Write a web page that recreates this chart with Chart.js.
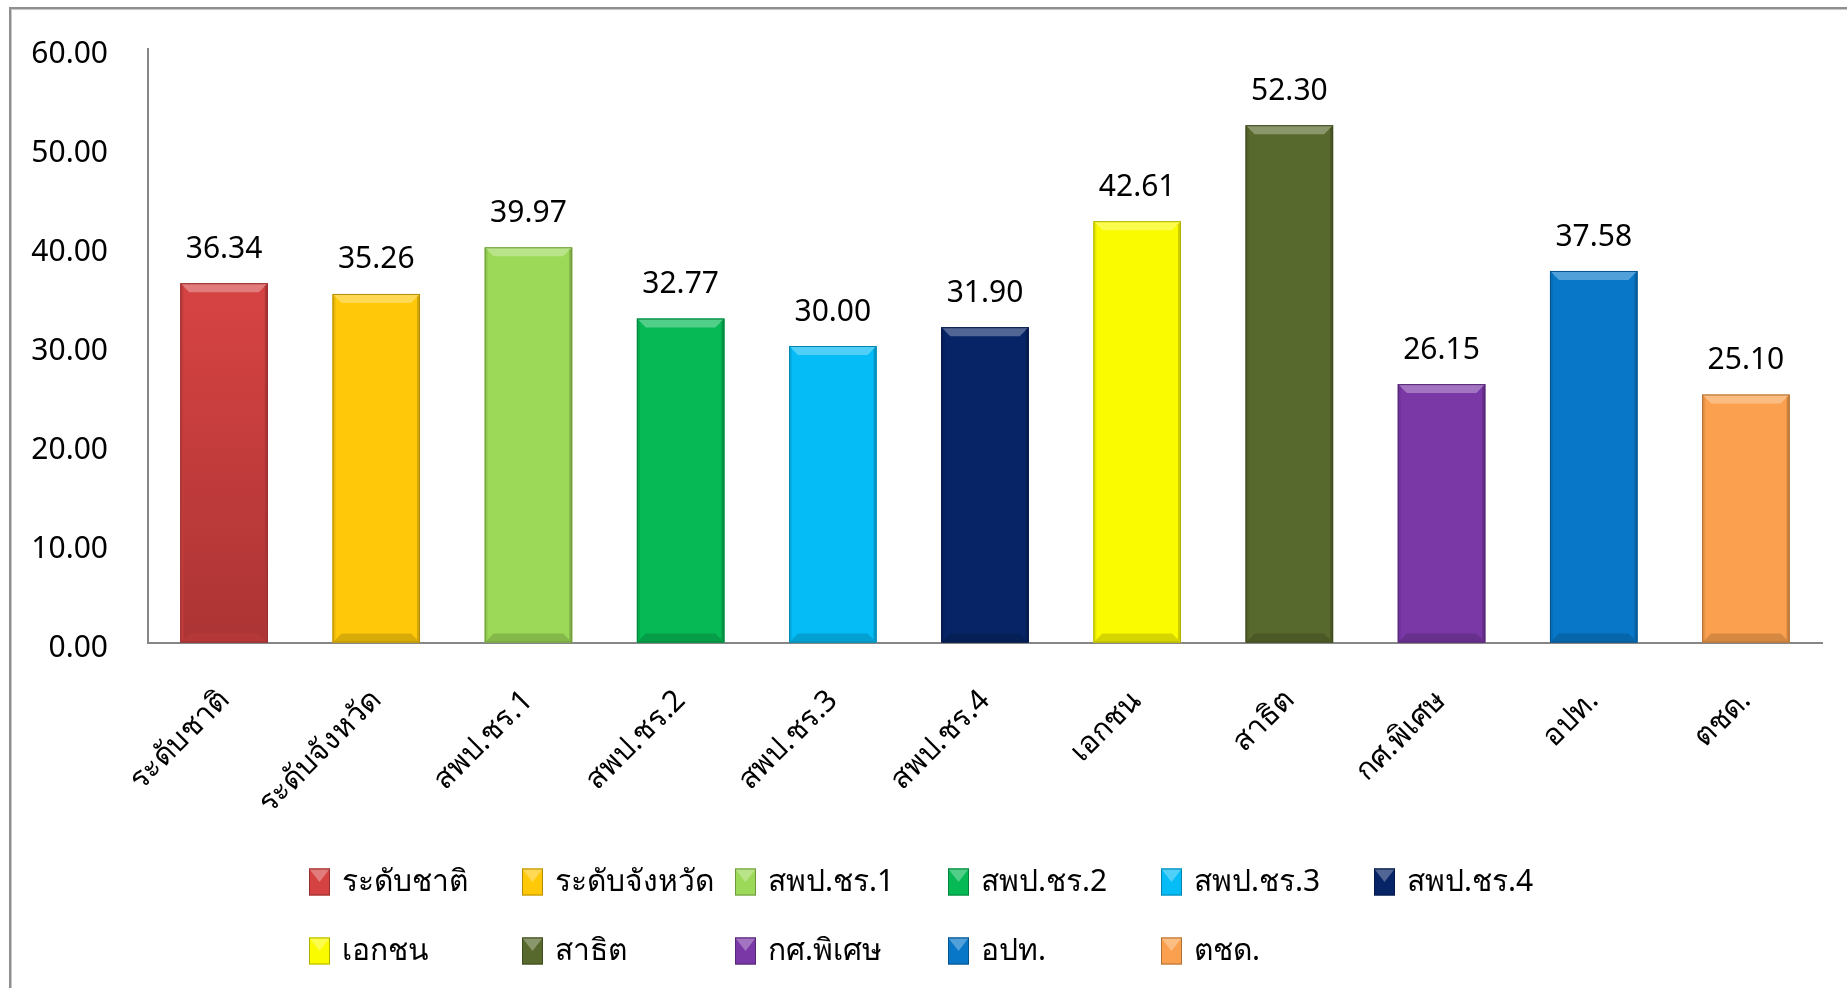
<!DOCTYPE html>
<html>
<head>
<meta charset="utf-8">
<script src="https://cdn.jsdelivr.net/npm/chart.js@4.4.0/dist/chart.umd.min.js"></script>
<style>
  html, body { margin: 0; padding: 0; background: #ffffff; overflow: hidden; }
  #wrap { position: relative; width: 1847px; height: 988px; }
  #frame { position: absolute; left: 9px; top: 7px; width: 1900px; height: 1100px;
           border-left: 2px solid #8f8f8f; border-top: 2px solid #8f8f8f;
           box-shadow: inset 1px 1px 0 #c8c8c8; }
  canvas { position: absolute; left: 0; top: 0; }
</style>
</head>
<body>
<div id="wrap">
  <div id="frame"></div>
  <canvas id="c" width="1847" height="988"></canvas>
</div>
<script>
const categories = ['ระดับชาติ', 'ระดับจังหวัด', 'สพป.ชร.1', 'สพป.ชร.2', 'สพป.ชร.3', 'สพป.ชร.4', 'เอกชน', 'สาธิต', 'กศ.พิเศษ', 'อปท.', 'ตชด.'];
const values = [36.34, 35.26, 39.97, 32.77, 30.00, 31.90, 42.61, 52.30, 26.15, 37.58, 25.10];
const barColors = ['#D54242', '#FFC90A', '#9DD958', '#06B955', '#05BCF6', '#062466', '#FBFB00', '#58692D', '#7A38A6', '#0877C8', '#FAA04E'];
const yTicks = [0, 10, 20, 30, 40, 50, 60];

const FONT = 'Tahoma, "Noto Sans", "DejaVu Sans", sans-serif';

function shade(hex, amt) {
  const n = parseInt(hex.slice(1), 16);
  let r = (n >> 16) & 255, g = (n >> 8) & 255, b = n & 255;
  if (amt >= 0) { r += (255 - r) * amt; g += (255 - g) * amt; b += (255 - b) * amt; }
  else { r *= (1 + amt); g *= (1 + amt); b *= (1 + amt); }
  return 'rgb(' + Math.round(r) + ',' + Math.round(g) + ',' + Math.round(b) + ')';
}

const bevelPlugin = {
  id: 'bevel',
  afterDatasetsDraw(chart) {
    const ctx = chart.ctx;
    const meta = chart.getDatasetMeta(0);
    meta.data.forEach((bar, i) => {
      const col = barColors[i];
      const w = bar.width, x0 = bar.x - w / 2, x1 = bar.x + w / 2;
      const top = bar.y, bot = bar.base;
      const b = 9;
      ctx.save();
      ctx.fillStyle = shade(col, 0.3);
      ctx.beginPath();
      ctx.moveTo(x0, top); ctx.lineTo(x1, top); ctx.lineTo(x1 - b, top + b); ctx.lineTo(x0 + b, top + b); ctx.closePath(); ctx.fill();
      ctx.fillStyle = shade(col, -0.18);
      ctx.beginPath();
      ctx.moveTo(x1, top); ctx.lineTo(x1, bot); ctx.lineTo(x1 - 3, bot - 3); ctx.lineTo(x1 - 3, top + 3); ctx.closePath(); ctx.fill();
      ctx.fillStyle = shade(col, -0.08);
      ctx.beginPath();
      ctx.moveTo(x0, top); ctx.lineTo(x0, bot); ctx.lineTo(x0 + 3, bot - 3); ctx.lineTo(x0 + 3, top + 3); ctx.closePath(); ctx.fill();
      ctx.fillStyle = shade(col, -0.15);
      ctx.beginPath();
      ctx.moveTo(x0, bot); ctx.lineTo(x1, bot); ctx.lineTo(x1 - b, bot - b); ctx.lineTo(x0 + b, bot - b); ctx.closePath(); ctx.fill();
      ctx.strokeStyle = shade(col, -0.3);
      ctx.lineWidth = 1;
      ctx.strokeRect(x0 + 0.5, top + 0.5, w - 1, bot - top - 1);
      ctx.restore();
    });
    ctx.save();
    ctx.font = '30px ' + FONT;
    ctx.fillStyle = '#000';
    ctx.textAlign = 'center';
    ctx.textBaseline = 'middle';
    meta.data.forEach((bar, i) => {
      ctx.fillText(values[i].toFixed(2), bar.x, bar.y - 34);
    });
    ctx.restore();
  }
};

const legendPlugin = {
  id: 'gridLegend',
  afterDraw(chart) {
    const ctx = chart.ctx;
    ctx.save();
    ctx.font = '30px ' + FONT;
    ctx.textBaseline = 'middle';
    ctx.textAlign = 'left';
    categories.forEach((name, i) => {
      const col = i % 6, row = Math.floor(i / 6);
      const x = 309 + col * 213;
      const y = 882 + row * 69;
      const bw = 21, bh = 27;
      const c = barColors[i];
      ctx.fillStyle = c;
      ctx.fillRect(x, y - bh / 2, bw, bh);
      ctx.fillStyle = shade(c, 0.3);
      ctx.beginPath();
      ctx.moveTo(x, y - bh / 2); ctx.lineTo(x + bw, y - bh / 2); ctx.lineTo(x + bw / 2, y); ctx.closePath(); ctx.fill();
      ctx.strokeStyle = shade(c, -0.3);
      ctx.lineWidth = 1;
      ctx.strokeRect(x + 0.5, y - bh / 2 + 0.5, bw - 1, bh - 1);
      ctx.fillStyle = '#000';
      ctx.fillText(name, x + 33, y);
    });
    ctx.restore();
  }
};

new Chart(document.getElementById('c'), {
  type: 'bar',
  data: {
    labels: categories,
    datasets: [{
      data: values,
      backgroundColor: (ctx) => {
        const i = ctx.dataIndex;
        if (i === 0 && ctx.chart.chartArea) {
          const a = ctx.chart.chartArea;
          const g = ctx.chart.ctx.createLinearGradient(0, a.top, 0, a.bottom);
          g.addColorStop(0, '#DC4646');
          g.addColorStop(0.45, '#D44242');
          g.addColorStop(1, '#AC3434');
          return g;
        }
        return barColors[i];
      },
      borderWidth: 0,
      barPercentage: 0.575,
      categoryPercentage: 1.0
    }]
  },
  options: {
    responsive: false,
    animation: false,
    devicePixelRatio: 1,
    layout: { padding: { left: 0, top: 49, right: 25, bottom: 0 } },
    plugins: { legend: { display: false }, tooltip: { enabled: false } },
    scales: {
      y: {
        min: 0, max: 60,
        afterBuildTicks: (scale) => { scale.ticks = yTicks.map(v => ({ value: v })); },
        afterFit: (scale) => { scale.width = 148; },
        ticks: {
          callback: (v) => Number(v).toFixed(2),
          font: { size: 30, family: FONT },
          color: '#000',
          padding: 0,
          labelOffset: 5
        },
        grid: { display: true, drawOnChartArea: false, drawTicks: true, tickLength: 40, color: 'rgba(0,0,0,0)' },
        border: { display: true, color: '#868686', width: 2 }
      },
      x: {
        afterFit: (scale) => { scale.height = 345; },
        ticks: {
          font: { size: 30, family: FONT },
          color: '#000',
          maxRotation: 45, minRotation: 45,
          padding: 0,
          autoSkip: false
        },
        grid: { display: true, drawOnChartArea: false, drawTicks: true, tickLength: 40, color: 'rgba(0,0,0,0)' },
        border: { display: true, color: '#868686', width: 2 }
      }
    }
  },
  plugins: [bevelPlugin, legendPlugin]
});
</script>
</body>
</html>
